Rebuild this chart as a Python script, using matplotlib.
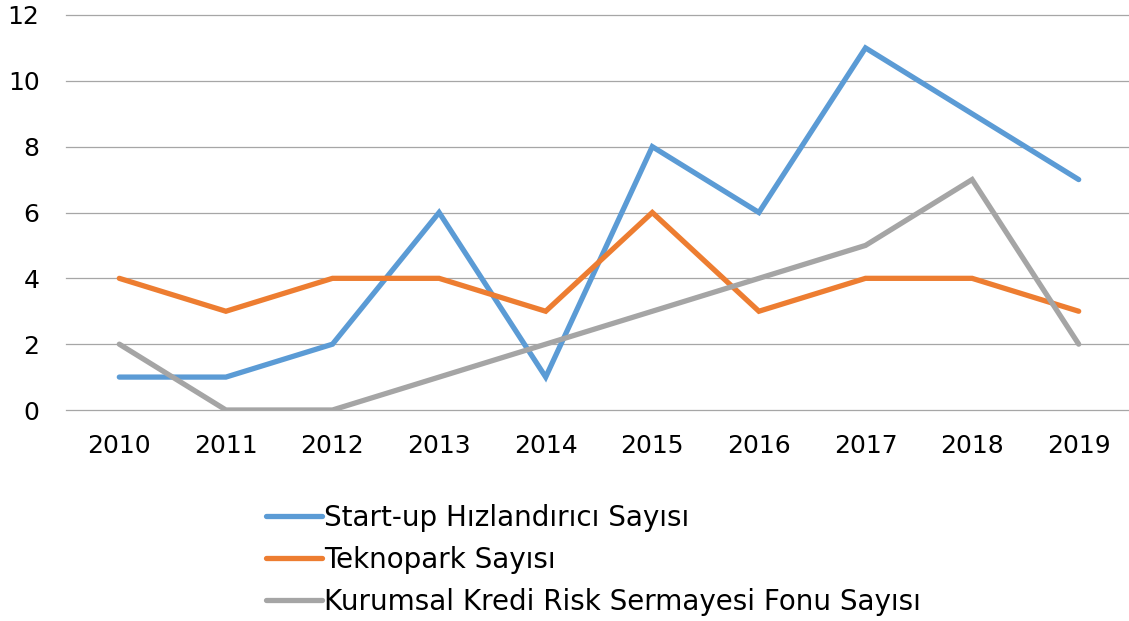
import matplotlib.pyplot as plt

years = ["2010", "2011", "2012", "2013", "2014", "2015", "2016", "2017", "2018", "2019"]
startup = [1, 1, 2, 6, 1, 8, 6, 11, 9, 7]
teknopark = [4, 3, 4, 4, 3, 6, 3, 4, 4, 3]
kurumsal = [2, 0, 0, 1, 2, 3, 4, 5, 7, 2]

labels = ["Start-up Hızlandırıcı Sayısı", "Teknopark Sayısı",
          "Kurumsal Kredi Risk Sermayesi Fonu Sayısı"]
colors = ["#5B9BD5", "#ED7D31", "#A5A5A5"]

plt.rcParams["font.family"] = ["DejaVu Sans"]

fig = plt.figure(figsize=(11.29, 6.21), dpi=100)
ax = fig.add_axes([66 / 1129, 1 - 410 / 621, (1132 - 66) / 1129, (410 - 15) / 621])

x = range(len(years))
for vals, lab, col in zip([startup, teknopark, kurumsal], labels, colors):
    ax.plot(x, vals, color=col, lw=3.8, label=lab, solid_capstyle="round",
            solid_joinstyle="miter", zorder=3)

ax.set_xlim(-0.5, len(years) - 0.5)
ax.set_ylim(0, 12)
ax.set_yticks(range(0, 13, 2))
ax.set_xticks(list(x))
ax.set_xticklabels(years)
ax.yaxis.grid(True, color="#A6A6A6", lw=0.9)
ax.set_axisbelow(True)
for gl in ax.get_ygridlines():
    gl.set_clip_on(False)
for s in ax.spines.values():
    s.set_visible(False)
ax.tick_params(axis="both", length=0, labelsize=18, colors="black")
ax.tick_params(axis="y", pad=19)
ax.tick_params(axis="x", pad=17)

fig.legend(loc="upper left", bbox_to_anchor=(255 / 1129, 1 - 493 / 621),
           frameon=False, fontsize=20, handlelength=2.0, handletextpad=0.1,
           labelspacing=0.5, borderaxespad=0)

fig.savefig("out.png", dpi=100)
